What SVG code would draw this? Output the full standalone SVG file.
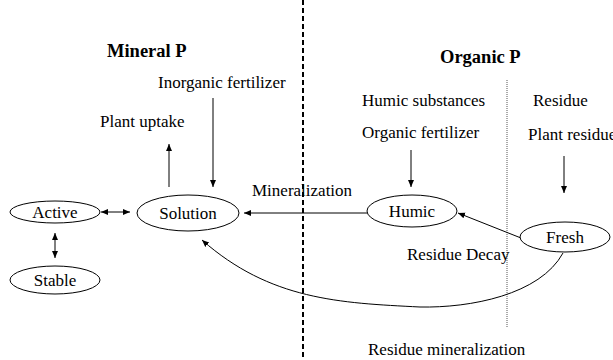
<svg xmlns="http://www.w3.org/2000/svg" width="613" height="360" viewBox="0 0 613 360">
<style>
text{font-family:'Liberation Serif','Times New Roman',serif !important;font-size:17px;fill:#000}
.b{font-weight:bold;font-size:18.5px}
ellipse{fill:#fff;stroke:#000;stroke-width:1}
.c{fill:none;stroke:#000;stroke-width:1}
</style>
<defs>
<marker id="ah" markerWidth="8" markerHeight="8" refX="7" refY="4" orient="auto" markerUnits="userSpaceOnUse">
<path d="M0,1 L7,4 L0,7 Z" fill="#000"/>
</marker>
<marker id="as" markerWidth="8" markerHeight="8" refX="1" refY="4" orient="auto" markerUnits="userSpaceOnUse">
<path d="M8,1 L1,4 L8,7 Z" fill="#000"/>
</marker>
</defs>
<rect width="613" height="360" fill="#fff"/>
<g id="dividers">
<line x1="303" y1="0" x2="303" y2="360" stroke="#000" stroke-width="2" stroke-dasharray="5,3"/>
<line x1="507" y1="80" x2="507" y2="328" stroke="#555" stroke-width="1" stroke-dasharray="1,1"/>
</g>
<g id="labels">
<text class="b" x="107" y="57" style="font-family:'Liberation Serif',serif">Mineral P</text>
<text class="b" x="440" y="63" style="font-family:'Liberation Serif',serif">Organic P</text>
<text x="158" y="88" style="font-family:'Liberation Serif',serif">Inorganic fertilizer</text>
<text x="100" y="127" style="font-family:'Liberation Serif',serif">Plant uptake</text>
<text x="252" y="196" style="font-family:'Liberation Serif',serif">Mineralization</text>
<text x="362" y="106" style="font-family:'Liberation Serif',serif">Humic substances</text>
<text x="362" y="138" style="font-family:'Liberation Serif',serif">Organic fertilizer</text>
<text x="533" y="106" style="font-family:'Liberation Serif',serif">Residue</text>
<text x="528" y="140" style="font-family:'Liberation Serif',serif">Plant residue</text>
<text x="407" y="260" style="font-family:'Liberation Serif',serif">Residue Decay</text>
<text x="368" y="355" style="font-family:'Liberation Serif',serif">Residue mineralization</text>
</g>
<g id="connectors">
<line class="c" x1="169" y1="187" x2="169" y2="144" marker-end="url(#ah)"/>
<line class="c" x1="213" y1="98" x2="213" y2="187" marker-end="url(#ah)"/>
<line class="c" x1="411" y1="150" x2="411" y2="187" marker-end="url(#ah)"/>
<line class="c" x1="564" y1="156" x2="564" y2="193" marker-end="url(#ah)"/>
<line class="c" x1="367" y1="213" x2="244" y2="213" marker-end="url(#ah)"/>
<line class="c" x1="101" y1="212" x2="130" y2="212" marker-start="url(#as)" marker-end="url(#ah)"/>
<line class="c" x1="55" y1="233" x2="55" y2="258" marker-start="url(#as)" marker-end="url(#ah)"/>
<line class="c" x1="521" y1="238" x2="458" y2="213" marker-end="url(#ah)"/>
<path class="c" d="M563,253 C540,295 470,308 420,307 C340,303 270,300 202,240" marker-end="url(#ah)"/>
</g>
<g id="node-active"><ellipse cx="55" cy="212" rx="45" ry="11"/><text x="55" y="218" text-anchor="middle" style="font-family:'Liberation Serif',serif">Active</text></g>
<g id="node-solution"><ellipse cx="188" cy="213" rx="51" ry="18"/><text x="188" y="219" text-anchor="middle" style="font-family:'Liberation Serif',serif">Solution</text></g>
<g id="node-stable"><ellipse cx="55" cy="280" rx="45" ry="14"/><text x="55" y="286" text-anchor="middle" style="font-family:'Liberation Serif',serif">Stable</text></g>
<g id="node-humic"><ellipse cx="412" cy="211" rx="45" ry="16"/><text x="412" y="217" text-anchor="middle" style="font-family:'Liberation Serif',serif">Humic</text></g>
<g id="node-fresh"><ellipse cx="565" cy="237" rx="45" ry="15"/><text x="565" y="243" text-anchor="middle" style="font-family:'Liberation Serif',serif">Fresh</text></g>
</svg>
